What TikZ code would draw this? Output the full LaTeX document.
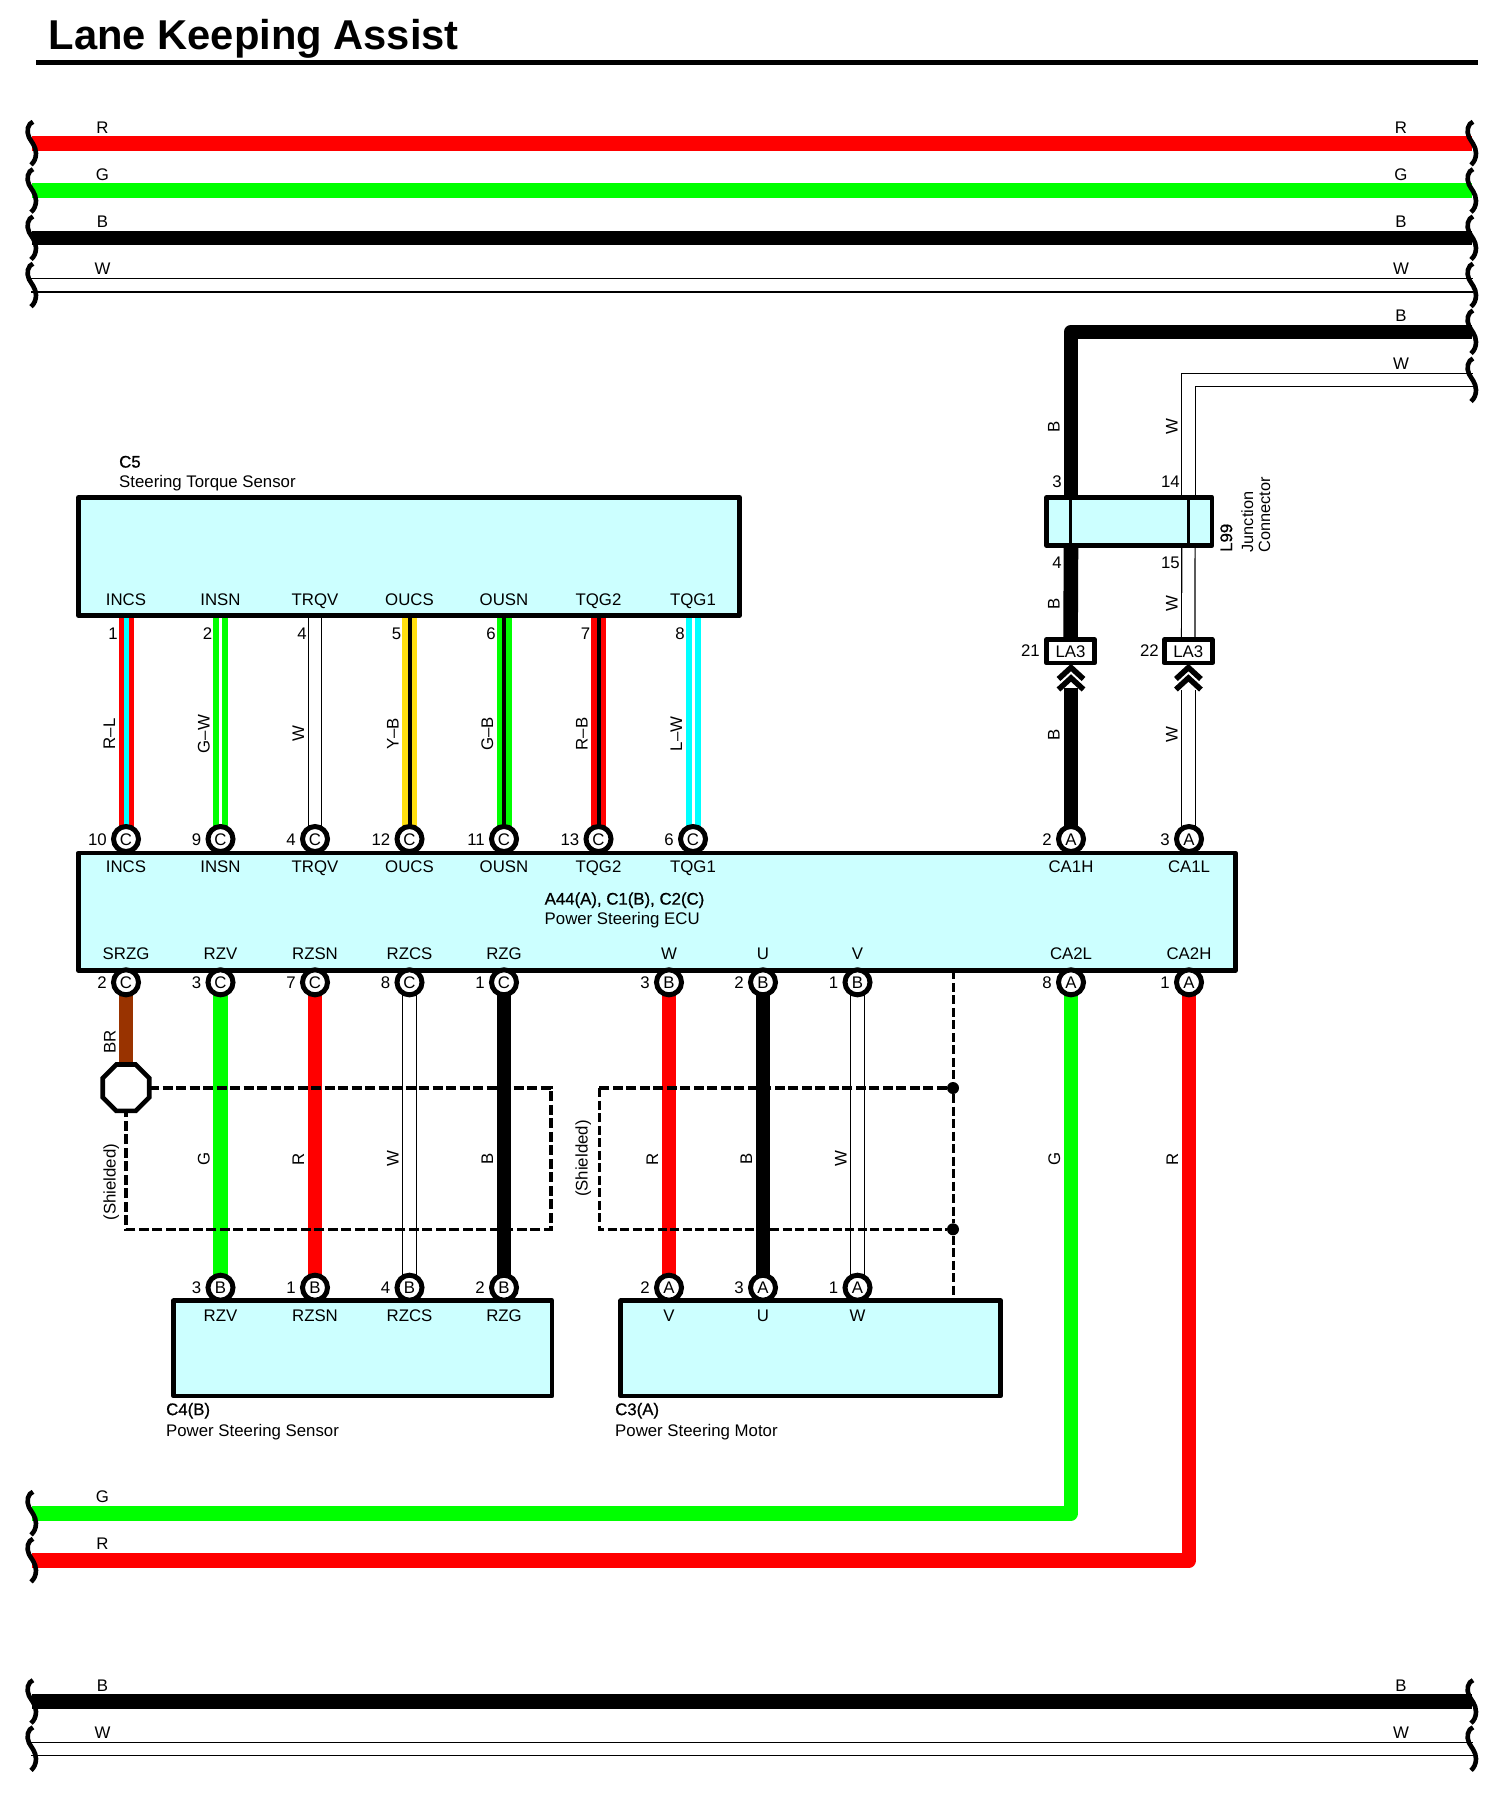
\documentclass[tikz,border=0pt]{standalone}
\usepackage{fontspec}
\usetikzlibrary{shapes.geometric}
\setmainfont{Liberation Sans}
\newfontfamily\strongf[FakeBold=0.8]{Liberation Sans}
\pgfdeclarelayer{wires}
\pgfsetlayers{wires,main}
\definecolor{boxfill}{HTML}{CCFFFF}
\definecolor{wred}{HTML}{FF0000}
\definecolor{wgreen}{HTML}{00FF00}
\definecolor{wcyan}{HTML}{00FFFF}
\definecolor{wyellow}{HTML}{FFDF10}
\definecolor{wbrown}{HTML}{993300}
\tikzset{
  x=1pt,y=-1pt,
  lab/.style={font=\fontsize{16.8}{17}\selectfont,inner sep=0pt,text height=12.2pt,text depth=0pt},
  strong/.style={font=\fontsize{16.8}{17}\strongf,inner sep=0pt,text height=12.2pt,text depth=0pt},
  vlab/.style={lab,rotate=90},
  sbox/.style={draw=black,fill=boxfill,line width=4.5pt,line join=round,inner sep=0pt,outer sep=0pt},
  labox/.style={draw=black,fill=white,line width=4.5pt,line join=round,inner sep=0pt,outer sep=0pt,
    minimum height=23.5pt,font=\fontsize{16.8}{17}\selectfont,text height=12.2pt,text depth=0pt},
  pincirc/.style={circle,draw=black,fill=white,line width=5pt,minimum size=25pt,inner sep=0pt,outer sep=0pt,
    font=\fontsize{16.8}{17}\selectfont,text height=12.2pt,text depth=0pt},
  wire/.style={line width=14.6pt,line join=round},
  wR/.style={wire,draw=wred},
  wG/.style={wire,draw=wgreen},
  wB/.style={wire,draw=black},
  wBR/.style={wire,draw=wbrown},
  wW/.style={draw=black,line width=1.2pt,double=white,double distance=12.2pt},
  wRL/.style={draw=wred,line width=5pt,double=wcyan,double distance=5pt},
  wGW/.style={draw=wgreen,line width=6pt,double=white,double distance=3pt},
  wYB/.style={draw=wyellow,line width=5.5pt,double=black,double distance=4pt},
  wGB/.style={draw=wgreen,line width=5.5pt,double=black,double distance=4pt},
  wRB/.style={draw=wred,line width=5.5pt,double=black,double distance=4pt},
  wLW/.style={draw=wcyan,line width=6pt,double=white,double distance=3pt},
  shieldthick/.style={draw=black,line width=3.6pt,dash pattern=on 10pt off 3.5pt},
  shieldthin/.style={draw=black,line width=3pt,dash pattern=on 9pt off 3.5pt},
  chev/.style={draw=black,line width=5.5pt,miter limit=10},
  squig/.pic={\draw[line width=4.6pt,draw=black]
     (1,-21.5) .. controls (-4,-20) and (-6,-12) .. (-3,-6)
     .. controls (-1,-2) and (4,3) .. (4,10)
     .. controls (4,15) and (2,19) .. (-1,21.5);},
}
\begin{document}
\begin{tikzpicture}
\useasboundingbox (0,0) rectangle (1509,1803);

% title
\node[anchor=base west,inner sep=0pt,font=\fontsize{41.7}{42}\bfseries\selectfont] (title) at (48.5,50) {Lane Keeping Assist};
\coordinate (ruleL) at (36,62.3);
\coordinate (ruleR) at (1478,62.3);
\draw[line width=5pt] (ruleL) -- (ruleR);

% boxes
\node[sbox,minimum width=661.4pt,minimum height=118pt] (c5) at (409,556.4) {};
\node[sbox,minimum width=1157.2pt,minimum height=117.4pt] (ecu) at (656.9,911.7) {};
\node[sbox,minimum width=378.5pt,minimum height=95.3pt] (c4) at (362.75,1348.35) {};
\node[sbox,minimum width=380pt,minimum height=95.3pt] (c3) at (810.6,1348.35) {};
\node[sbox,minimum width=165.5pt,minimum height=48.1pt] (jc) at (1129.25,521.35) {};
\draw[line width=3pt] (1070.5,497.3) -- (1070.5,545.4) (1188.7,497.3) -- (1188.7,545.4);
\node[labox,minimum width=48pt] (la1) at (1070.5,651.25) {LA3};
\node[labox,minimum width=48pt] (la2) at (1188.25,651.25) {LA3};

% box titles
\node[strong,anchor=west] (c5t) at (119,461.5) {C5};
\node[lab,anchor=west] (c5n) at (119,481.5) {Steering Torque Sensor};
\node[strong,anchor=west] (ecut) at (544.5,898.5) {A44(A), C1(B), C2(C)};
\node[lab,anchor=west] (ecun) at (544.5,918) {Power Steering ECU};
\node[strong,anchor=west] (c4t) at (166,1409) {C4(B)};
\node[lab,anchor=west] (c4n) at (166,1430) {Power Steering Sensor};
\node[strong,anchor=west] (c3t) at (615,1409) {C3(A)};
\node[lab,anchor=west] (c3n) at (615,1430) {Power Steering Motor};
\node[strong,anchor=west,rotate=90] (jct) at (1226,552) {L99};
\node[lab,font=\fontsize{16.3}{17}\selectfont,rotate=90,anchor=west] (jcn1) at (1247,552.5) {Junction};
\node[lab,font=\fontsize{16.3}{17}\selectfont,rotate=90,anchor=west] (jcn2) at (1264,552.5) {Connector};

% sensor to ECU wires
\foreach \n/\x/\nam/\cf/\eu/\st/\lb in {
 a/126/INCS/1/10/wRL/R–L,
 b/220.5/INSN/2/9/wGW/G–W,
 c/315/TRQV/4/4/wW/W,
 d/409.5/OUCS/5/12/wYB/Y–B,
 e/504/OUSN/6/11/wGB/G–B,
 f/598.5/TQG2/7/13/wRB/R–B,
 g/693/TQG1/8/6/wLW/L–W}{
  \node[pincirc] (up\n) at (\x,839) {C};
  \begin{pgfonlayer}{wires}
    \draw[\st] (up\n) -- (up\n |- c5.south);
  \end{pgfonlayer}
  \node[lab] (cfn\n) at (\x,599.7) {\nam};
  \node[lab] (eun\n) at (\x,866.7) {\nam};
  \node[lab,anchor=east] (cfp\n) at (\x-8,633) {\cf};
  \node[lab,anchor=east] (eup\n) at (\x-19,839) {\eu};
  \node[vlab] (wl\n) at (\x-17,734) {\lb};
}

% ECU to sensor and motor wires
\foreach \n/\x/\nam/\eu/\ltr/\st/\lb/\dnum/\dltr/\dnam in {
 h/220.5/RZV/3/C/wG/G/3/B/RZV,
 i/315/RZSN/7/C/wR/R/1/B/RZSN,
 j/409.5/RZCS/8/C/wW/W/4/B/RZCS,
 k/504/RZG/1/C/wB/B/2/B/RZG,
 l/669/W/3/B/wR/R/2/A/V,
 m/763/U/2/B/wB/B/3/A/U,
 n/857.5/V/1/B/wW/W/1/A/W}{
  \node[pincirc] (lo\n) at (\x,982.3) {\ltr};
  \node[pincirc] (dw\n) at (\x,1287.7) {\dltr};
  \begin{pgfonlayer}{wires}
    \draw[\st] (lo\n) -- (dw\n);
  \end{pgfonlayer}
  \node[lab] (lon\n) at (\x,953.3) {\nam};
  \node[lab,anchor=east] (lop\n) at (\x-19,982.3) {\eu};
  \node[lab] (dwn\n) at (\x,1315.7) {\dnam};
  \node[lab,anchor=east] (dwp\n) at (\x-19,1287.7) {\dnum};
  \node[vlab] (wm\n) at (\x-17,1159) {\lb};
}

% SRZG and shield ground
\node[pincirc] (srzg) at (126,982.3) {C};
\node[lab] (srzgn) at (126,953.3) {SRZG};
\node[lab,anchor=east] (srzgp) at (107,982.3) {2};
\node[regular polygon,regular polygon sides=8,draw=black,fill=white,line width=4.6pt,
      minimum size=50.3pt,inner sep=0pt,outer sep=0pt] (gnd) at (126,1087.7) {};
\begin{pgfonlayer}{wires}
  \draw[wBR] (srzg) -- (gnd);
\end{pgfonlayer}
\node[vlab] (brl) at (109.5,1041.7) {BR};
\node[vlab] (sh1) at (109.5,1182) {(Shielded)};
\coordinate (s1a) at (550.7,1087.7);
\coordinate (s1b) at (550.7,1229.3);
\coordinate (s1c) at (126,1229.3);
\draw[shieldthick] (gnd.east) -- (s1a) -- (s1b) -- (s1c) -- (gnd.south);

% right shield
\node[circle,fill=black,minimum size=12pt,inner sep=0pt] (dota) at (953,1088) {};
\node[circle,fill=black,minimum size=12pt,inner sep=0pt] (dotb) at (953,1229.3) {};
\coordinate (s2a) at (599,1088);
\coordinate (s2b) at (599,1229.3);
\draw[shieldthick] (dota) -- (s2a);
\draw[shieldthin] (s2a) -- (s2b) -- (dotb);
\draw[shieldthin] (dota |- ecu.south) -- (dota) -- (dotb) -- (dota |- c3.north);
\node[vlab] (sh2) at (581.5,1158.6) {(Shielded)};

% CAN pins
\node[pincirc] (ca1h) at (1071,839) {A};
\node[pincirc] (ca1l) at (1189,839) {A};
\node[lab] (ca1hn) at (1071,866.7) {CA1H};
\node[lab] (ca1ln) at (1189,866.7) {CA1L};
\node[lab,anchor=east] (ca1hp) at (1052,839) {2};
\node[lab,anchor=east] (ca1lp) at (1170,839) {3};
\node[pincirc] (ca2l) at (1071,982.3) {A};
\node[pincirc] (ca2h) at (1189,982.3) {A};
\node[lab] (ca2ln) at (1071,953.3) {CA2L};
\node[lab] (ca2hn) at (1189,953.3) {CA2H};
\node[lab,anchor=east] (ca2lp) at (1052,982.3) {8};
\node[lab,anchor=east] (ca2hp) at (1170,982.3) {1};
\node[vlab] (lg) at (1054,1159) {G};
\node[vlab] (lr) at (1172,1159) {R};

% bus end points
\coordinate (rL) at (32,143.3);   \coordinate (rR) at (1472,143.3);
\coordinate (gL) at (32,190.7);   \coordinate (gR) at (1472,190.7);
\coordinate (bL) at (32,238);     \coordinate (bR) at (1472,238);
\coordinate (wL) at (31,285.2);   \coordinate (wR) at (1473,285.2);
\coordinate (bcR) at (1472,332);  \coordinate (bcK) at (1071,332);
\coordinate (wcR) at (1473,380);  \coordinate (wcK) at (1188.4,380);
\coordinate (g2L) at (32,1513.3); \coordinate (g2K) at (1071,1513.3);
\coordinate (r2L) at (32,1560.3); \coordinate (r2K) at (1189,1560.3);
\coordinate (b3L) at (32,1701.7); \coordinate (b3R) at (1472,1701.7);
\coordinate (w3L) at (31,1748.8); \coordinate (w3R) at (1473,1748.8);
\coordinate (chA) at (1071,688);
\coordinate (chB) at (1189,690);

\begin{pgfonlayer}{wires}
  \draw[wR] (rL) -- (rR);
  \draw[wG] (gL) -- (gR);
  \draw[wB] (bL) -- (bR);
  \draw[wW] (wL) -- (wR);
  \draw[wB] (bcR) -- (bcK) -- (jc.north -| bcK);
  \draw[wW] (wcR) -- (wcK) -- (jc.north -| wcK);
  \draw[wB] (jc.south -| bcK) -- (la1);
  \draw[wW] (jc.south -| wcK) -- (la2);
  \draw[wB] (chA) -- (ca1h);
  \draw[wW] (chB -| wcK) -- (ca1l.north -| wcK);
  \draw[wG] (g2L) -- (g2K) -- (ca2l);
  \draw[wR] (r2L) -- (r2K) -- (ca2h);
  \draw[wB] (b3L) -- (b3R);
  \draw[wW] (w3L) -- (w3R);
\end{pgfonlayer}

% chevrons
\foreach \cx in {1071,1188.4}{
  \draw[chev] (\cx-12.5,679) -- (\cx,667.5) -- (\cx+12.5,679);
  \draw[chev] (\cx-12.5,689.5) -- (\cx,678) -- (\cx+12.5,689.5);
}

% wedges
\foreach \yy in {143.3,190.7,238,285.2,1513.3,1560.3,1701.7,1748.8}{
  \pic at (32,\yy) {squig};
}
\foreach \yy in {143.3,190.7,238,285.2,332,380,1701.7,1748.8}{
  \pic at (1472,\yy) {squig};
}

% bus labels
\foreach \yy/\t in {127.5/R,174.5/G,221.7/B,268/W,1496.7/G,1543.3/R,1685.7/B,1732.7/W}{
  \node[lab] at (102.5,\yy) {\t};
}
\foreach \yy/\t in {127.5/R,174.5/G,221.7/B,268/W,315.5/B,363/W,1685.7/B,1732.7/W}{
  \node[lab] at (1401,\yy) {\t};
}

% junction labels
\node[vlab] (jb1) at (1053.5,427) {B};
\node[vlab] (jw1) at (1171.5,427) {W};
\node[lab,anchor=east] (j3) at (1062,481.7) {3};
\node[lab,anchor=east] (j14) at (1180,481.7) {14};
\node[lab,anchor=east] (j4) at (1062,562) {4};
\node[lab,anchor=east] (j15) at (1180,562) {15};
\node[vlab] (jb2) at (1053.5,604) {B};
\node[vlab] (jw2) at (1171.5,604) {W};
\node[lab,anchor=east] (j21) at (1040,650.7) {21};
\node[lab,anchor=east] (j22) at (1159,650.7) {22};
\node[vlab] (jb3) at (1053.5,735) {B};
\node[vlab] (jw3) at (1171.5,735) {W};
\end{tikzpicture}
\end{document}
